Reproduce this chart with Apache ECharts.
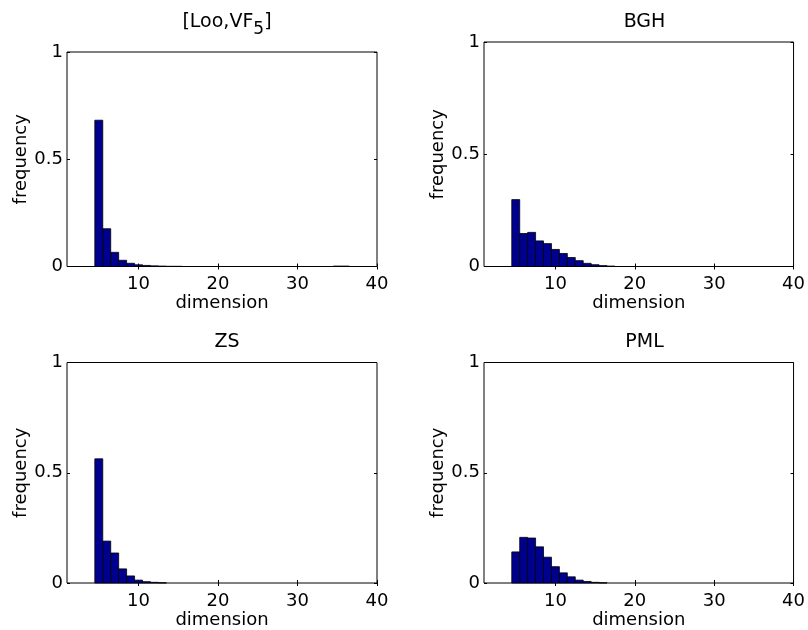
<!DOCTYPE html>
<html>
<head>
<meta charset="utf-8">
<script src="https://cdn.jsdelivr.net/npm/echarts@6/dist/echarts.min.js"></script>
<style>
html,body{margin:0;padding:0;background:#fff;}
#main{width:808px;height:630px;}
</style>
</head>
<body>
<div id="main"></div>
<script>
// ---- data ----
const xTicks = [10, 20, 30, 40];
const yTicks = [0, 0.5, 1];
const titles = ['[Loo,VF{sub|5}]', 'BGH', 'ZS', 'PML'];

const looDims = [5, 6, 7, 8, 9, 10, 11, 12, 13, 14, 15, 35, 36];
const looVals = [0.682, 0.176, 0.066, 0.029, 0.015, 0.008, 0.005, 0.003, 0.002, 0.001, 0.001, 0.002, 0.002];

const bghDims = [5, 6, 7, 8, 9, 10, 11, 12, 13, 14, 15, 16, 17];
const bghVals = [0.298, 0.147, 0.152, 0.114, 0.102, 0.076, 0.058, 0.040, 0.026, 0.014, 0.008, 0.004, 0.002];

const zsDims = [5, 6, 7, 8, 9, 10, 11, 12, 13];
const zsVals = [0.563, 0.190, 0.136, 0.064, 0.032, 0.013, 0.006, 0.003, 0.001];

const pmlDims = [5, 6, 7, 8, 9, 10, 11, 12, 13, 14, 15, 16];
const pmlVals = [0.141, 0.207, 0.204, 0.164, 0.117, 0.074, 0.046, 0.028, 0.013, 0.007, 0.003, 0.001];

const panels = [
  {dims: looDims, vals: looVals},
  {dims: bghDims, vals: bghVals},
  {dims: zsDims, vals: zsVals},
  {dims: pmlDims, vals: pmlVals}
];

// ---- layout ----
const FONT = 'DejaVu Sans';
const grids = [
  {left: 67, top: 52, width: 310, height: 214.5},
  {left: 484, top: 42, width: 311, height: 224.5},
  {left: 67, top: 362.5, width: 310, height: 225},
  {left: 484, top: 362.5, width: 311, height: 225}
];
const titleTops = [1, 8, 328, 328];

const chart = echarts.init(document.getElementById('main'), null, {renderer: 'canvas'});

const option = {
  backgroundColor: '#fff',
  animation: false,
  title: [],
  grid: [],
  xAxis: [],
  yAxis: [],
  series: []
};

grids.forEach((g, i) => {
  option.grid.push(Object.assign({show: true, borderColor: '#000', borderWidth: 1, backgroundColor: '#fff'}, g));
  option.title.push({
    text: titles[i],
    left: g.left + g.width / 2,
    textAlign: 'center',
    top: titleTops[i],
    textStyle: {
      fontFamily: FONT, fontSize: 19, fontWeight: 'normal', color: '#000',
      rich: {sub: {fontFamily: FONT, fontSize: 17, color: '#000', padding: [15, 0, 0, 0]}}
    }
  });
  const xBase = {
    type: 'value', gridIndex: i, min: 1, max: 40,
    splitLine: {show: false},
    axisLine: {show: false},
    axisTick: {show: true, inside: true, length: 3, lineStyle: {color: '#000'}, customValues: xTicks},
  };
  option.xAxis.push(Object.assign({}, xBase, {
    position: 'bottom',
    name: 'dimension', nameLocation: 'middle', nameGap: 28,
    nameTextStyle: {fontFamily: FONT, fontSize: 18, color: '#000'},
    axisLabel: {show: true, customValues: xTicks, fontFamily: FONT, fontSize: 18, color: '#000', margin: 9}
  }));
  option.xAxis.push(Object.assign({}, xBase, {
    position: 'top', axisLabel: {show: false}
  }));
  const yBase = {
    type: 'value', gridIndex: i, min: 0, max: 1,
    splitLine: {show: false},
    axisLine: {show: false},
    axisTick: {show: true, inside: true, length: 3, lineStyle: {color: '#000'}, customValues: yTicks},
  };
  option.yAxis.push(Object.assign({}, yBase, {
    position: 'left',
    name: 'frequency', nameLocation: 'middle', nameGap: 35,
    nameTextStyle: {fontFamily: FONT, fontSize: 18, color: '#000'},
    axisLabel: {show: true, customValues: yTicks, fontFamily: FONT, fontSize: 18, color: '#000', margin: 4}
  }));
  option.yAxis.push(Object.assign({}, yBase, {
    position: 'right', axisLabel: {show: false}
  }));

  const p = panels[i];
  option.series.push({
    type: 'custom',
    xAxisIndex: 2 * i,
    yAxisIndex: 2 * i,
    data: p.dims.map((d, k) => [d, p.vals[k]]),
    renderItem: function (params, api) {
      const x = api.value(0), y = api.value(1);
      const p1 = api.coord([x - 0.5, y]);
      const p2 = api.coord([x + 0.5, 0]);
      return {
        type: 'rect',
        shape: {x: p1[0], y: p1[1], width: p2[0] - p1[0], height: p2[1] - p1[1]},
        style: {fill: '#00008F', stroke: '#000', lineWidth: 0.8}
      };
    }
  });
});

chart.setOption(option);
</script>
</body>
</html>
